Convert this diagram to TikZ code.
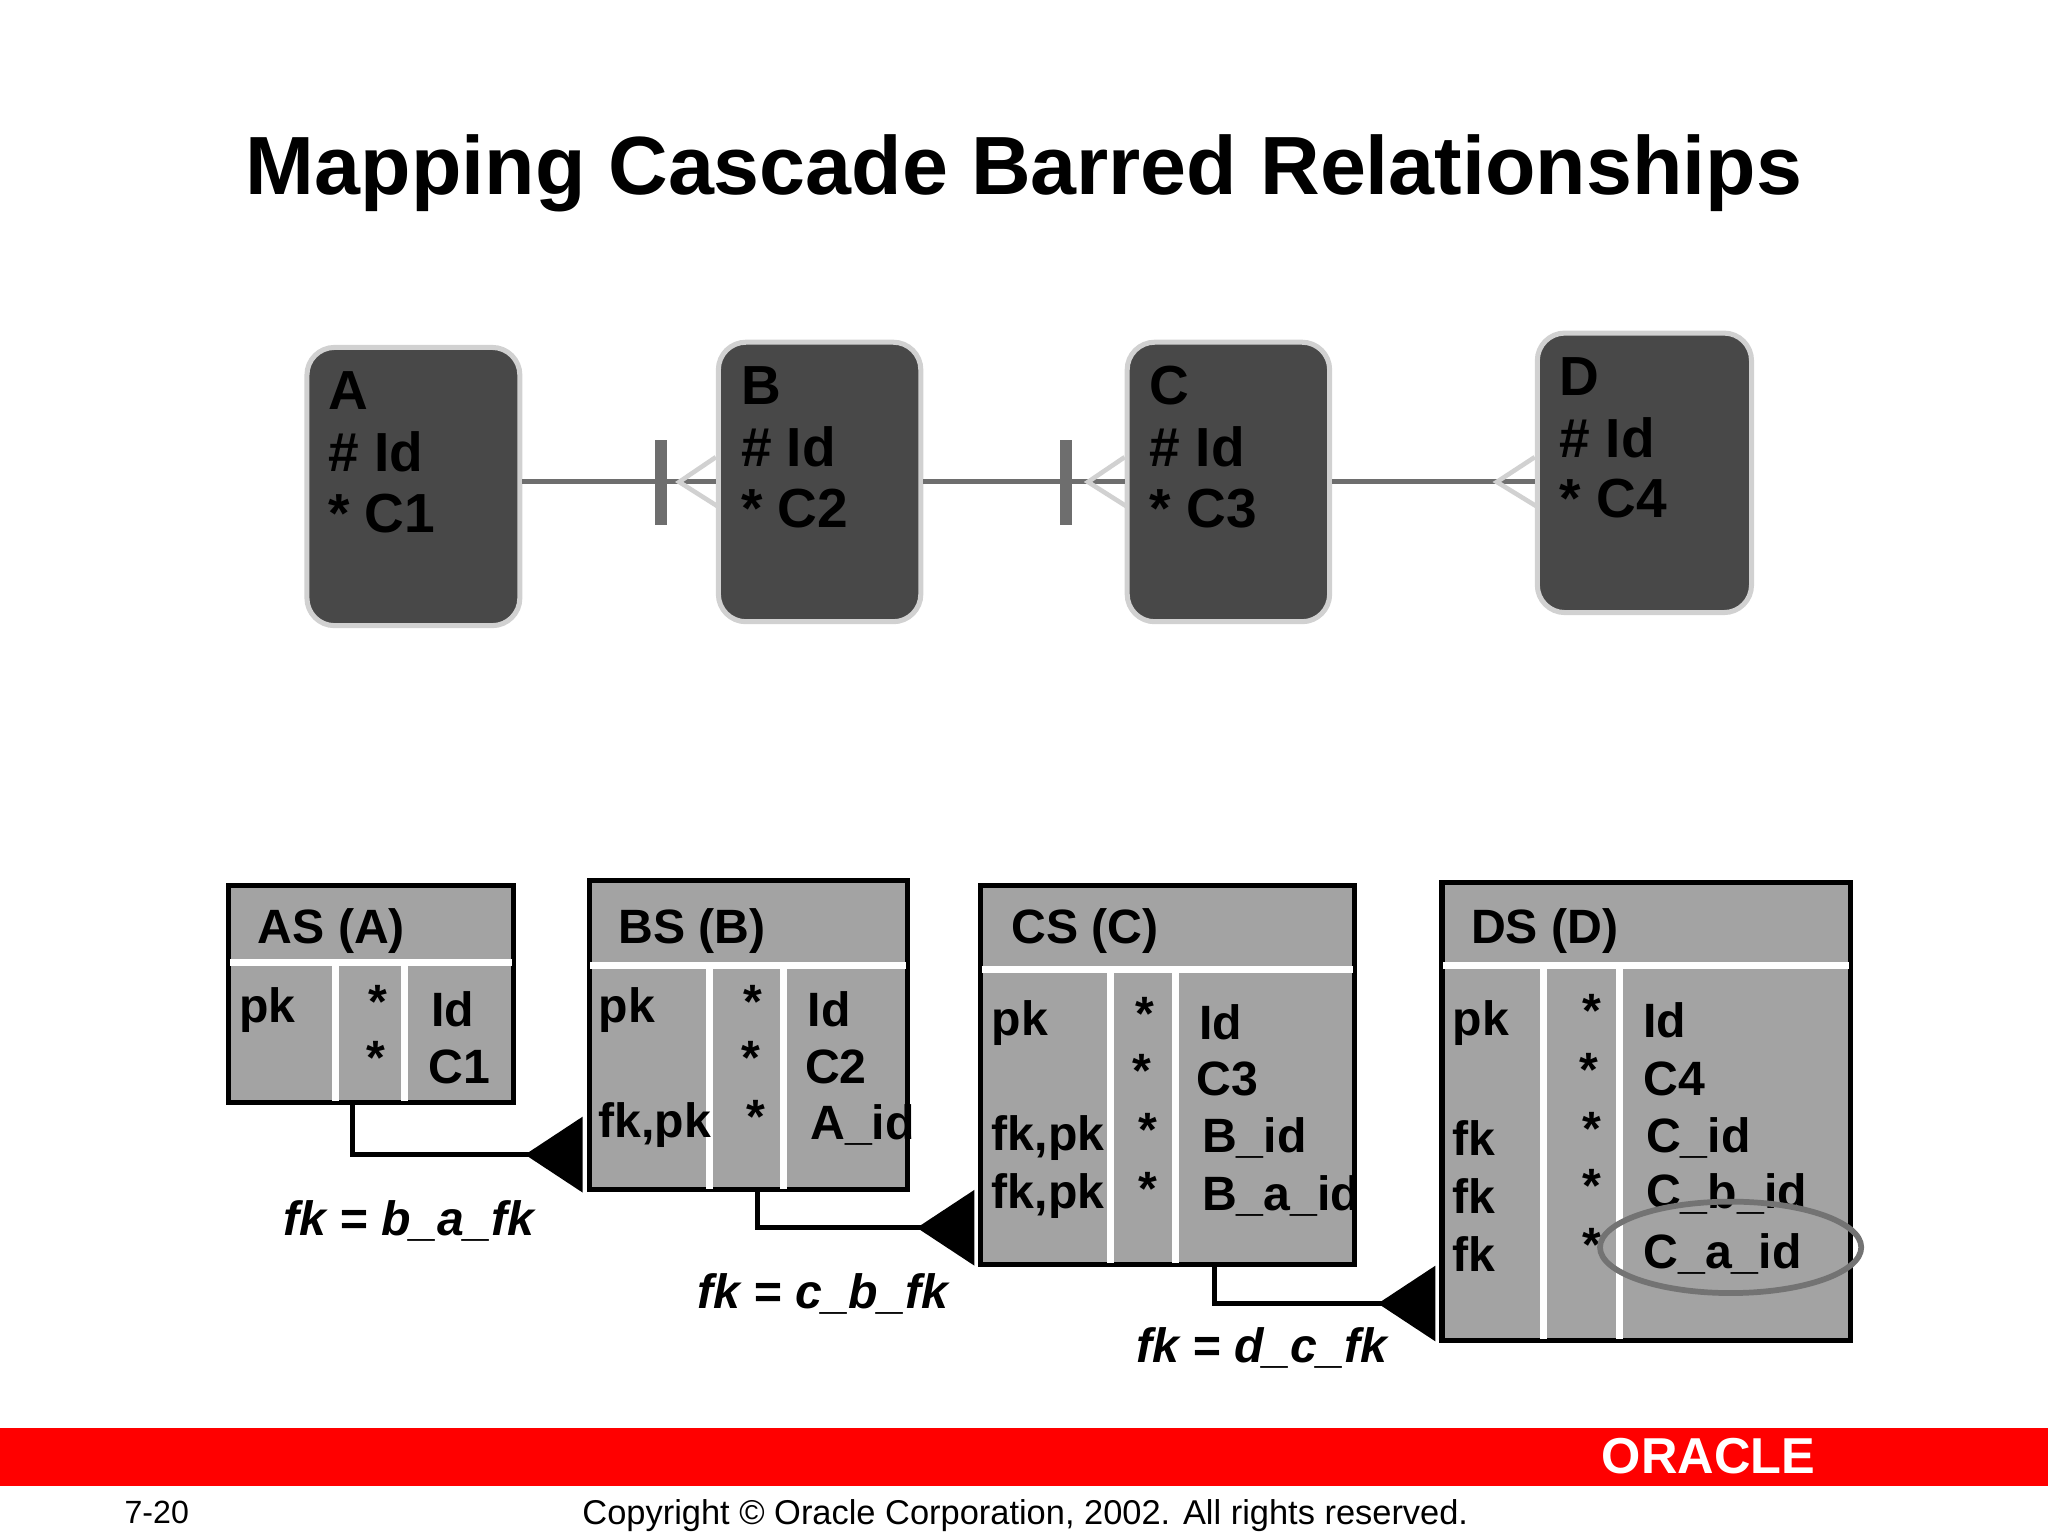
\documentclass[tikz,border=0pt]{standalone}
\usepackage{fontspec}
\setmainfont{Liberation Sans}
\definecolor{erbox}{HTML}{484848}
\definecolor{erline}{HTML}{6E6E6E}
\definecolor{tbl}{HTML}{A3A3A3}
\definecolor{orared}{HTML}{FF0000}
\begin{document}
\begin{tikzpicture}[x=0.02cm,y=-0.02cm,
  ent/.style={draw=black!18,line width=2.2pt,fill=erbox,rounded corners=12pt,inner sep=0pt},
  etxt/.style={anchor=west,font=\fontsize{24}{28}\selectfont\bfseries,text=black,inner sep=0pt},
  tab/.style={draw=black,line width=2.2pt,fill=tbl,inner sep=0pt},
  ttxt/.style={anchor=west,font=\fontsize{21}{25}\selectfont\bfseries,inner sep=0pt},
  sep/.style={white,line width=3pt},
  rel/.style={erline,line width=2.2pt},
  foot/.style={black!18,line width=2pt},
  bar/.style={erline,line width=5pt},
  fkl/.style={black,line width=2pt},
  tri/.style={fill=black},
  lab/.style={font=\fontsize{21}{25}\selectfont\bfseries\itshape,inner sep=0pt}]
\useasboundingbox (0,0) rectangle (1568,1176);
\node[font=\fontsize{36}{40}\selectfont\bfseries] (title) at (784,133) {Mapping Cascade Barred Relationships};
% ER entities
\node[ent,minimum width=163*0.02cm,minimum height=213*0.02cm] (A) at (316.5,372.5) {};
\node[ent,minimum width=155*0.02cm,minimum height=214*0.02cm] (B) at (627.5,369) {};
\node[ent,minimum width=155*0.02cm,minimum height=214*0.02cm] (C) at (940.5,369) {};
\node[ent,minimum width=164*0.02cm,minimum height=214*0.02cm] (D) at (1259,362) {};
\node[etxt] (At1) at (251,299) {A};
\node[etxt] (At2) at (251,346) {\# Id};
\node[etxt] (At3) at (251,393) {* C1};
\node[etxt] (Bt1) at (567,295) {B};
\node[etxt] (Bt2) at (567,342) {\# Id};
\node[etxt] (Bt3) at (567,389) {* C2};
\node[etxt] (Ct1) at (880,295) {C};
\node[etxt] (Ct2) at (880,342) {\# Id};
\node[etxt] (Ct3) at (880,389) {* C3};
\node[etxt] (Dt1) at (1194,288) {D};
\node[etxt] (Dt2) at (1194,335) {\# Id};
\node[etxt] (Dt3) at (1194,382) {* C4};
% relationships
\coordinate (ab) at (A.east |- 0,369); \coordinate (ba) at (B.west |- 0,369);
\coordinate (bc) at (B.east |- 0,369); \coordinate (cb) at (C.west |- 0,369);
\coordinate (cd) at (C.east |- 0,369); \coordinate (dc) at (D.west |- 0,369);
\draw[rel] (ab) -- (ba);
\draw[rel] (bc) -- (cb);
\draw[rel] (cd) -- (dc);
\draw[bar] (506,337) -- (506,402);
\draw[bar] (816,337) -- (816,402);
\draw[foot] (ba) ++(0,-19) -- (520,369) -- ++(30,19);
\draw[foot] (cb) ++(0,-19) -- (833,369) -- ++(30,19);
\draw[foot] (dc) ++(0,-19) -- (1146,369) -- ++(31,19);
% tables
\node[tab,minimum width=218*0.02cm,minimum height=166*0.02cm] (AS) at (284,761) {};
\node[tab,minimum width=244*0.02cm,minimum height=237*0.02cm] (BS) at (573,792.5) {};
\node[tab,minimum width=286*0.02cm,minimum height=290*0.02cm] (CS) at (894,823) {};
\node[tab,minimum width=313*0.02cm,minimum height=350*0.02cm] (DS) at (1260.5,851) {};
\draw[sep] (176,737) -- (392,737); \draw[sep] (257,737) -- (257,843); \draw[sep] (310,737) -- (310,843);
\draw[sep] (452,739) -- (694,739); \draw[sep] (543,739) -- (543,910); \draw[sep] (600,739) -- (600,910);
\draw[sep] (752,742) -- (1036,742); \draw[sep] (850,742) -- (850,967); \draw[sep] (900,742) -- (900,967);
\draw[sep] (1105,739) -- (1416,739); \draw[sep] (1182,739) -- (1182,1025); \draw[sep] (1240,739) -- (1240,1025);
\node[ttxt] (ASh) at (197,713) {AS (A)};
\node[ttxt] (a1) at (183,773) {pk}; \node[ttxt] (a2) at (282,767) {*}; \node[ttxt] (a3) at (330,773) {Id};
\node[ttxt] (a4) at (280,810) {*}; \node[ttxt] (a5) at (328,817) {C1};
\node[ttxt] (BSh) at (473,713) {BS (B)};
\node[ttxt] (b1) at (458,773) {pk}; \node[ttxt] (b2) at (569,767) {*}; \node[ttxt] (b3) at (618,773) {Id};
\node[ttxt] (b4) at (567,810) {*}; \node[ttxt] (b5) at (616,817) {C2};
\node[ttxt] (b6) at (458,861) {fk,pk}; \node[ttxt] (b7) at (571,855) {*}; \node[ttxt] (b8) at (620,861) {A\_id};
\node[ttxt] (CSh) at (774,713) {CS (C)};
\node[ttxt] (c1) at (759,783) {pk}; \node[ttxt] (c2) at (869,776) {*}; \node[ttxt] (c3) at (918,783) {Id};
\node[ttxt] (c4) at (867,820) {*}; \node[ttxt] (c5) at (916,826) {C3};
\node[ttxt] (c6) at (759,871) {fk,pk}; \node[ttxt] (c7) at (871,865) {*}; \node[ttxt] (c8) at (920,871) {B\_id};
\node[ttxt] (c9) at (759,916) {fk,pk}; \node[ttxt] (c10) at (871,910) {*}; \node[ttxt] (c11) at (920,916) {B\_a\_id};
\node[ttxt] (DSh) at (1126,713) {DS (D)};
\node[ttxt] (d1) at (1112,783) {pk}; \node[ttxt] (d2) at (1211,774) {*}; \node[ttxt] (d3) at (1258,781) {Id};
\node[ttxt] (d4) at (1209,819) {*}; \node[ttxt] (d5) at (1258,826) {C4};
\node[ttxt] (d6) at (1112,871) {fk}; \node[ttxt] (d7) at (1211,864) {*}; \node[ttxt] (d8) at (1260,871) {C\_id};
\node[ttxt] (d9) at (1112,916) {fk}; \node[ttxt] (d10) at (1211,908) {*}; \node[ttxt] (d11) at (1260,914) {C\_b\_id};
\node[ttxt] (d12) at (1112,960) {fk}; \node[ttxt] (d13) at (1211,953) {*}; \node[ttxt] (d14) at (1258,960) {C\_a\_id};
\draw[black!55,line width=2.5pt] (1325,955) ellipse [x radius=100, y radius=35];
% fk connectors
\draw[fkl] (270,844) -- (270,884) -- (405,884);
\fill[tri] (402,884) -- (446,855) -- (446,913) -- cycle;
\draw[fkl] (580,911) -- (580,940) -- (705,940);
\fill[tri] (702,940) -- (746,911) -- (746,969) -- cycle;
\draw[fkl] (930,968) -- (930,998) -- (1058,998);
\fill[tri] (1055,998) -- (1099,969) -- (1099,1027) -- cycle;
\node[lab] (l1) at (313,935) {fk = b\_a\_fk};
\node[lab] (l2) at (630,991) {fk = c\_b\_fk};
\node[lab] (l3) at (966,1032) {fk = d\_c\_fk};
% footer
\fill[orared] (0,1093) rectangle (1568,1138);
\node[white,font=\fontsize{22}{24}\selectfont\bfseries] (ora) at (1308,1115) {ORACLE};
\node[font=\fontsize{14}{16}\selectfont] (pg) at (120,1158) {7-20};
\node[font=\fontsize{15}{17}\selectfont] (copy) at (785,1160) {Copyright © Oracle Corporation, 2002. All rights reserved.};
\end{tikzpicture}
\end{document}
